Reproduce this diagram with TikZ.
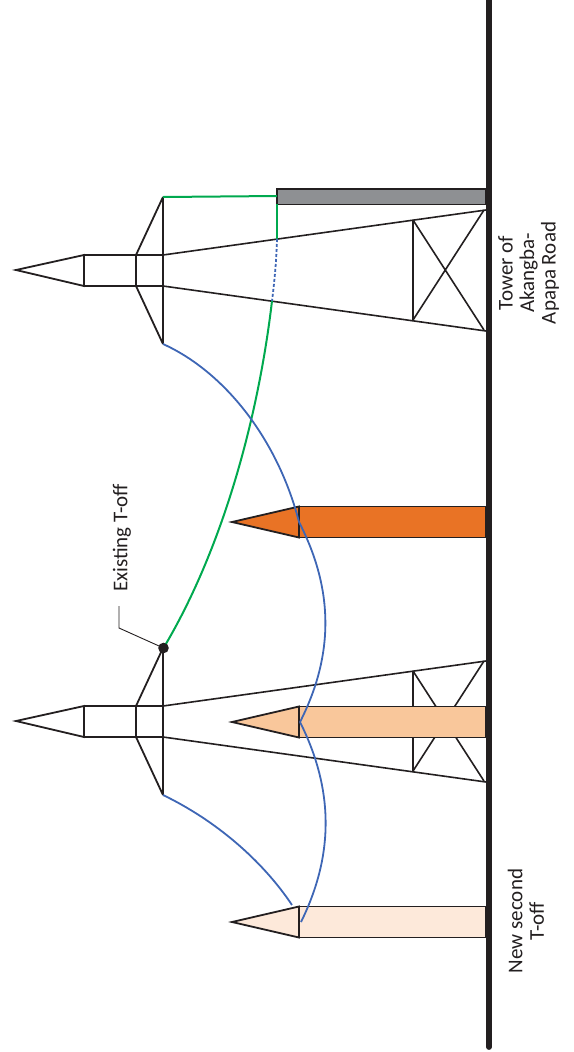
\documentclass[tikz,border=0pt]{standalone}
\usepackage{fontspec}
\setmainfont{Carlito}
\definecolor{inkk}{HTML}{231F20}
\definecolor{wiregreen}{HTML}{00A94F}
\definecolor{wireblue}{HTML}{3E66B5}
\definecolor{postgray}{HTML}{8E9093}
\definecolor{poleA}{HTML}{E97325}
\definecolor{poleB}{HTML}{F9C79B}
\definecolor{poleC}{HTML}{FDE9DA}
\tikzset{
  frame/.style={draw=inkk,line width=1.8pt,line join=miter},
  thinframe/.style={draw=inkk,line width=1.6pt},
  bluewire/.style={draw=wireblue,line width=1.8pt},
  greenwire/.style={draw=wiregreen,line width=2pt},
  lab/.style={rotate=90,align=center,text=inkk,font=\fontsize{21}{21.5}\selectfont,inner sep=0pt},
  tower/.pic={
    \draw[frame] (16,0) -- (84,-15) -- (84,16) -- cycle;
    \draw[frame] (84,-15) -- (163,-15) (84,16) -- (163,16);
    \draw[frame] (136,-15) -- (136,16);
    \draw[frame] (163,-73) -- (163,74);
    \draw[frame] (136,-15) -- (163,-73) (136,16) -- (163,74);
    \draw[thinframe] (163,-15) -- (486,-60) (163,16) -- (486,61);
    \draw[thinframe] (413,-50) -- (413,50) (413,-50) -- (484,60) (413,50) -- (484,-60);
  },
}
\begin{document}
\begin{tikzpicture}[x=1pt,y=-1pt]
\useasboundingbox (0,0) rectangle (573,1052);
\coordinate (T1arm) at (163,197);
\coordinate (T1low) at (163,344);
\coordinate (P1top) at (299,522);
\coordinate (P2top) at (300,722);
\coordinate (P3top) at (301,922);
\coordinate (T2low) at (163,795);
\coordinate (P3side) at (292,905);
\coordinate (gside) at (277,196);
\coordinate (gtop) at (277,204);
\coordinate (c1) at (277,239);
\coordinate (c2) at (272,301);
\coordinate (Toff) at (163.5,648);
\coordinate (L1) at (119,606);
\coordinate (L2) at (119,628);

% towers
\pic at (0,270) {tower};
\pic at (0,721) {tower};

% gray post
\draw[frame,fill=postgray] (277,189) rectangle (486,204.5);

% poles
\draw[frame,fill=poleA] (299,506.5) rectangle (486,537.5);
\draw[frame,fill=poleA] (232,522) -- (299,506.5) -- (299,537.5) -- cycle;
\draw[frame,fill=poleB] (299,706.5) rectangle (486,737.5);
\draw[frame,fill=poleB] (232,722) -- (299,706.5) -- (299,737.5) -- cycle;
\draw[frame,fill=poleC] (299,906.5) rectangle (486,937.5);
\draw[frame,fill=poleC] (232,922) -- (299,906.5) -- (299,937.5) -- cycle;

% wires
\draw[greenwire] (T1arm) -- (gside);
\draw[greenwire] (gtop) -- (c1);
\draw[bluewire,densely dashed] (c1) .. controls (276.5,260) and (274.5,281) .. (c2);
\draw[greenwire] (c2) .. controls (258,420) and (222,550) .. (Toff);
\draw[bluewire] (T1low) .. controls (225,372) and (278,440) .. (P1top);
\draw[bluewire] (P1top) .. controls (334,590) and (334,655) .. (P2top);
\draw[bluewire] (P2top) .. controls (334,790) and (334,855) .. (P3top);
\draw[bluewire] (T2low) .. controls (215,820) and (262,860) .. (P3side);

% T-off marker
\fill[inkk] (Toff) circle (5.3pt);
\draw[inkk,line width=0.9pt] (L1) -- (L2) -- (Toff);

% ground
\draw[inkk,line width=5.8pt,line cap=round] (489,0) -- (489,1047);

% labels
\node[lab] (existing) at (122,538) {Existing T-off};
\node[lab] (tower) at (528.5,273) {Tower of\\Akangba-\\Apapa Road};
\node[lab] (newt) at (526,921) {New second\\T-off};
\end{tikzpicture}
\end{document}
